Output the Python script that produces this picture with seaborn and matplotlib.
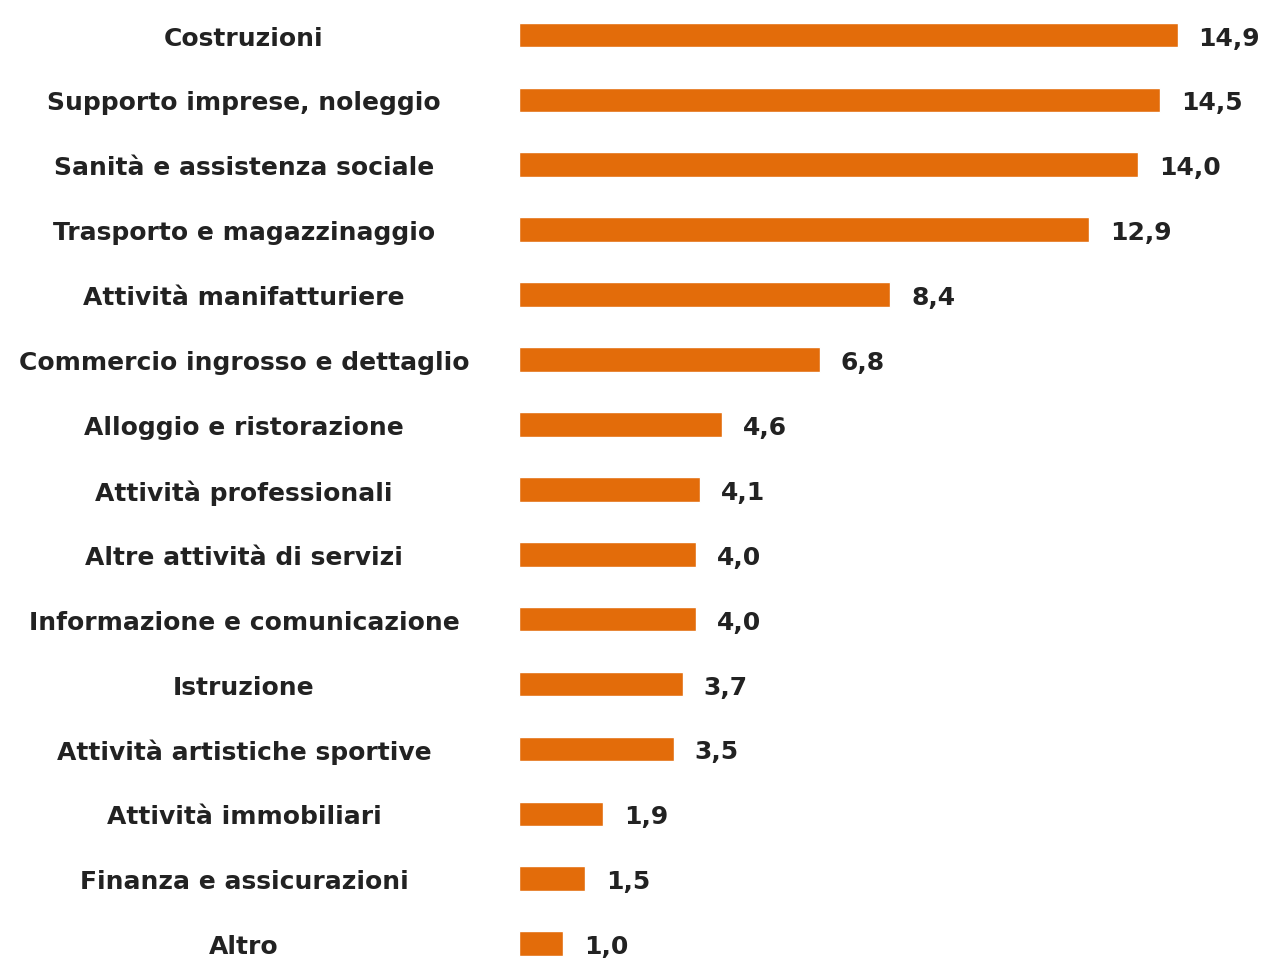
import matplotlib
matplotlib.use("Agg")
import matplotlib.pyplot as plt
import seaborn as sns
import pandas as pd

settori = [
    "Costruzioni",
    "Supporto imprese, noleggio",
    "Sanità e assistenza sociale",
    "Trasporto e magazzinaggio",
    "Attività manifatturiere",
    "Commercio ingrosso e dettaglio",
    "Alloggio e ristorazione",
    "Attività professionali",
    "Altre attività di servizi",
    "Informazione e comunicazione",
    "Istruzione",
    "Attività artistiche sportive",
    "Attività immobiliari",
    "Finanza e assicurazioni",
    "Altro",
]
quote = [14.9, 14.5, 14.0, 12.9, 8.4, 6.8, 4.6, 4.1, 4.0, 4.0, 3.7, 3.5, 1.9, 1.5, 1.0]

df = pd.DataFrame({"settore": settori, "quota": quote})

sns.set_theme(style="white")
plt.rcParams["font.family"] = ["DejaVu Sans"]

fig = plt.figure(figsize=(12.66, 9.70), dpi=100)
ax = fig.add_axes([0.41, 0.0, 0.59, 1.0])

sns.barplot(data=df, x="quota", y="settore", orient="h", color="#E36C0A",
            saturation=1, width=0.38, ax=ax)

ax.set_xlim(0, 16.9)
ax.set_ylim(14.39, -0.555)
ax.set_xlabel("")
ax.set_ylabel("")
ax.set_xticks([])
sns.despine(ax=ax, left=True, bottom=True, top=True, right=True)

ax.tick_params(axis="y", length=0, pad=198)
for lab in ax.get_yticklabels():
    lab.set_horizontalalignment("center")
    lab.set_fontsize(18)
    lab.set_fontweight("bold")
    lab.set_color("#222222")

for i, v in enumerate(quote):
    ax.annotate(f"{v:.1f}".replace(".", ","), xy=(v, i), xytext=(15, 0),
                textcoords="offset points", ha="left", va="center_baseline",
                fontsize=18, fontweight="bold", color="#222222")

fig.savefig("out.png", dpi=100)
